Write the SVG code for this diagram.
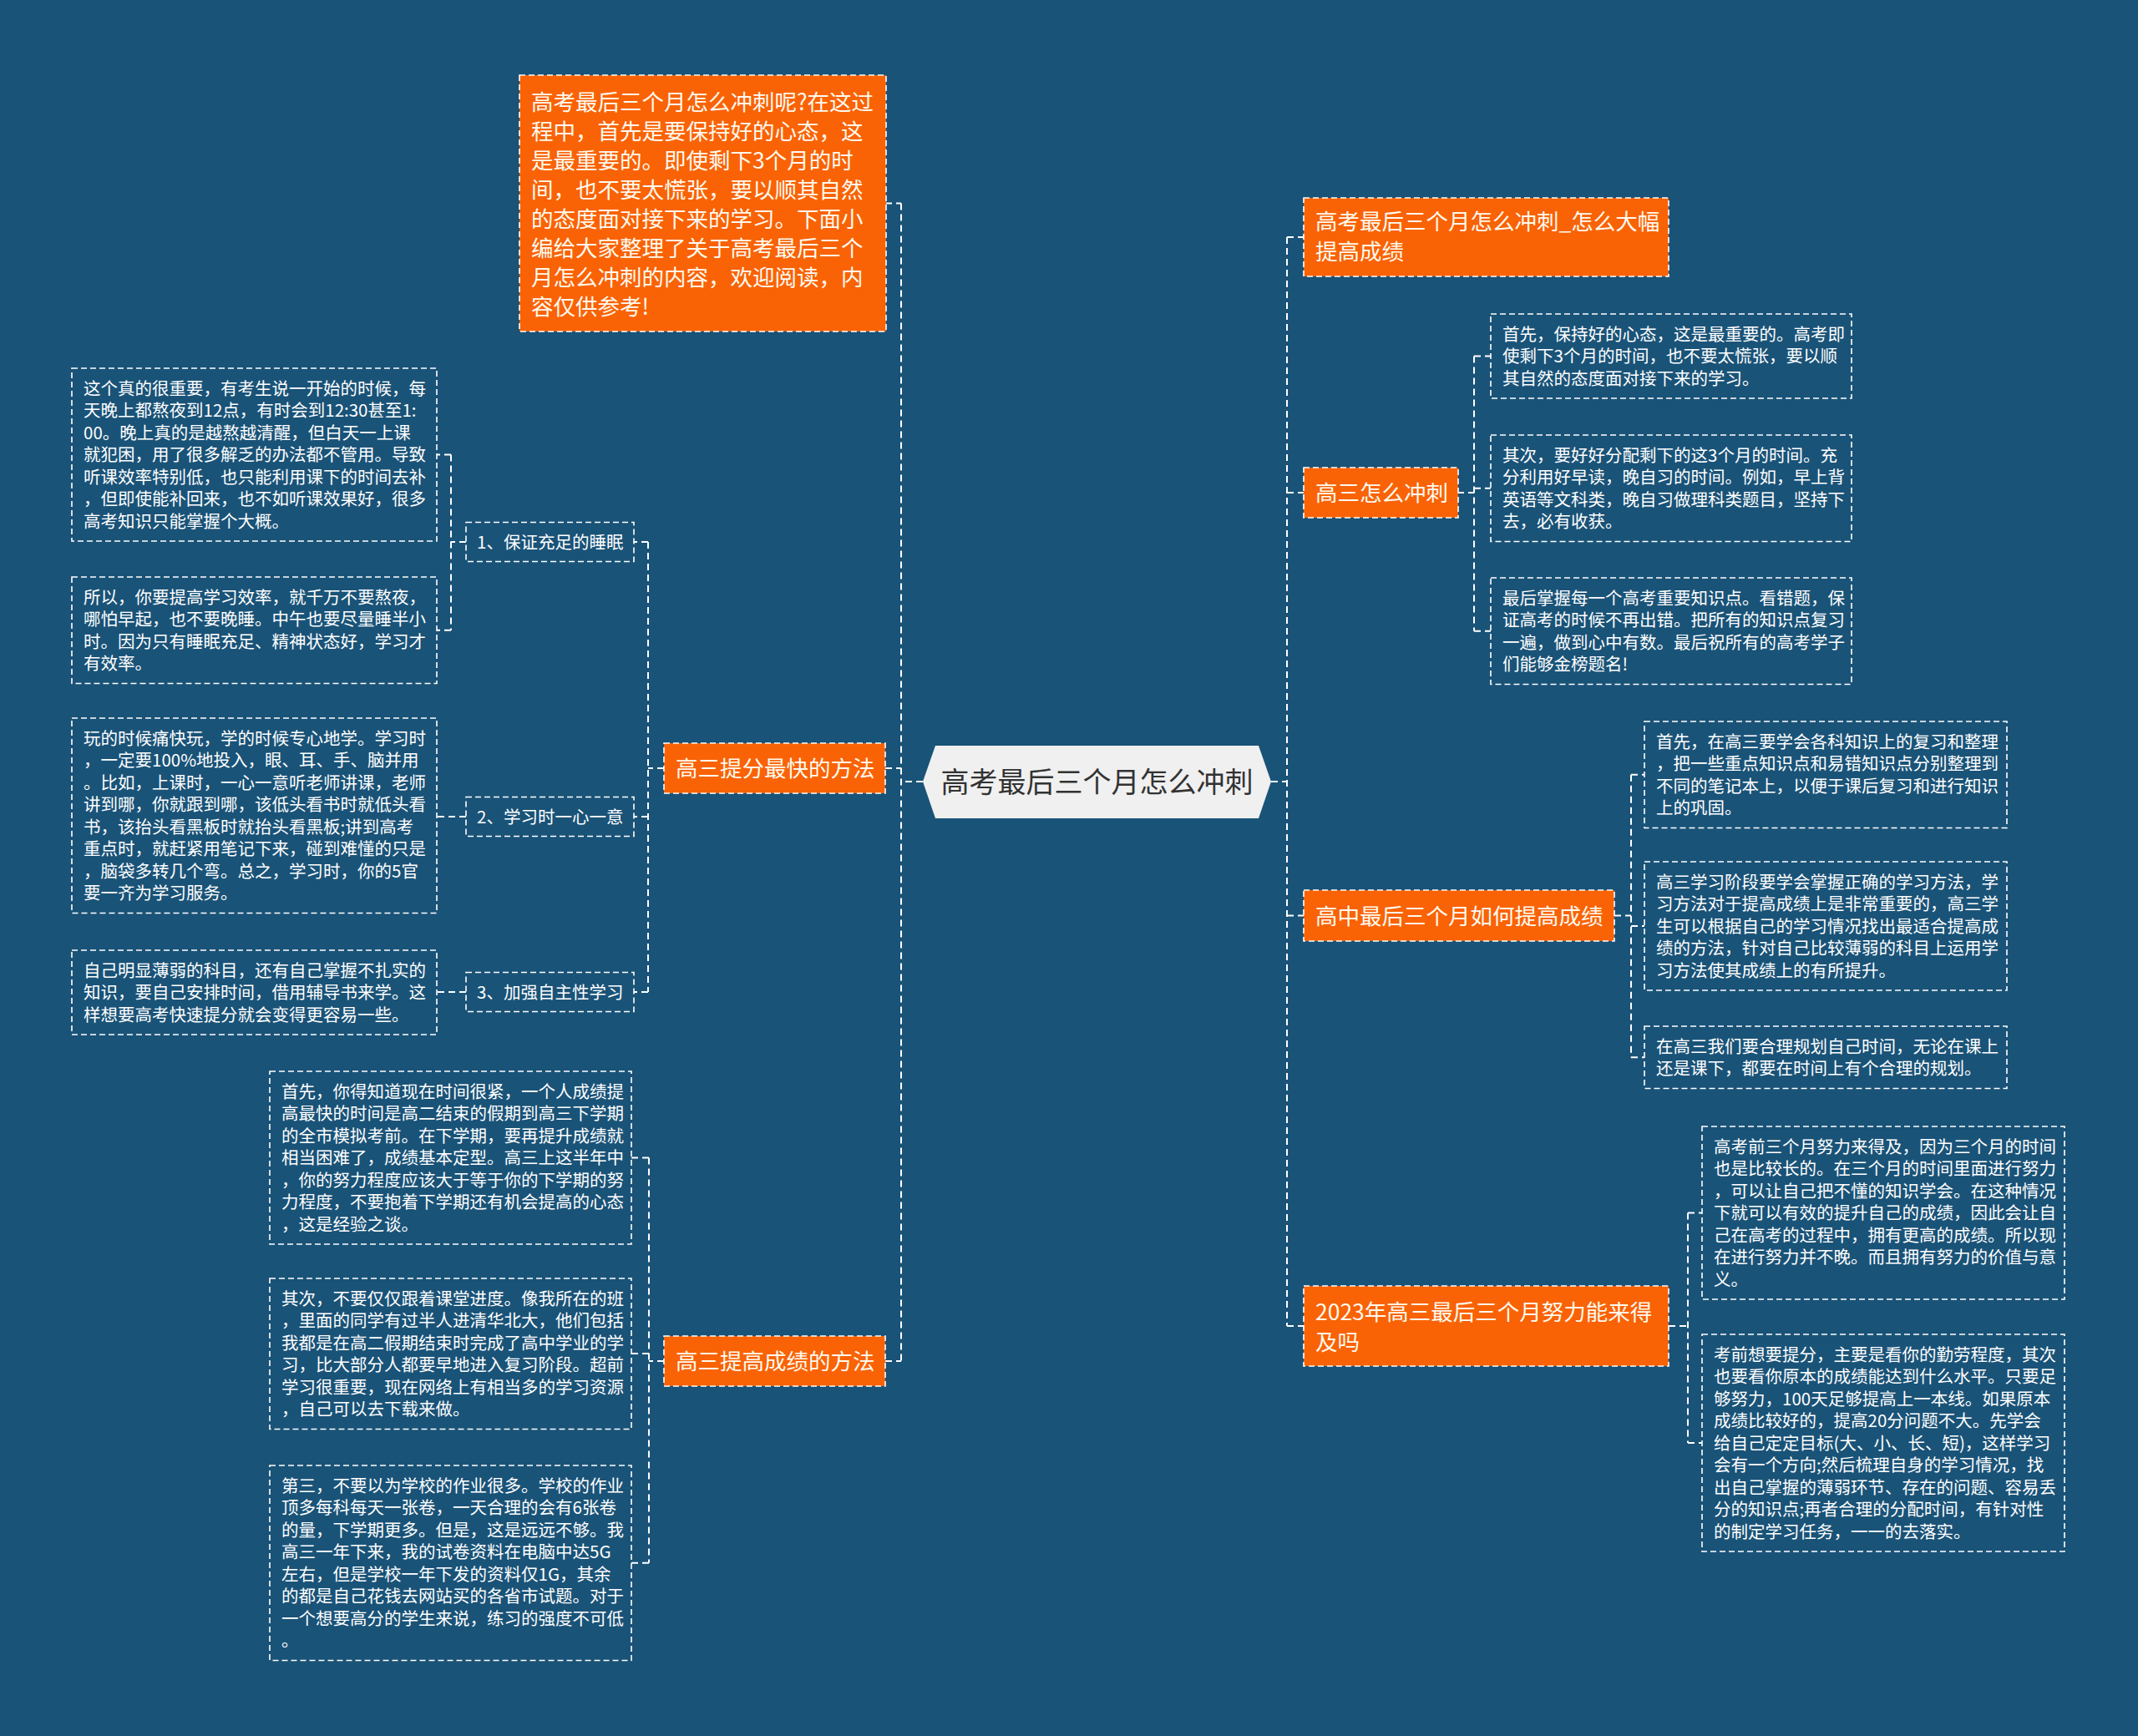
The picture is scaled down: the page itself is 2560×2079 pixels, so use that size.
<svg xmlns="http://www.w3.org/2000/svg" width="2560" height="2079" viewBox="0 0 2560 2079">
<style>
.bg{fill:#1a5378}
.leaf rect{fill:none;stroke:#fff;stroke-width:1.6;stroke-dasharray:7 4}
.org rect{fill:#f96306;stroke:#fff;stroke-width:1.6;stroke-dasharray:7 4}
text{font-family:"Noto Sans CJK SC","Noto Sans",sans-serif;fill:#fff}
.leaf text{font-size:20.5px}
.org text{font-size:26.5px;fill:#fffaf0}
.conn path{fill:none;stroke:#fff;stroke-width:2;stroke-dasharray:8 5}
</style>
<rect class="bg" x="0" y="0" width="2560" height="2079"/>

<g class="conn" id="connectors">
<path d="M1105 936H1079M1079 243.5V1630M1060 243.5H1079M1060 920H1079M1060 1630H1079"/>
<path d="M1522 936H1541M1541 284V1588M1541 284H1561M1541 590H1561M1541 1096.5H1561M1541 1588H1561"/>
<path d="M795 920H776M776 649V1188M776 649H759M776 978H759M776 1188H759"/>
<path d="M558 649H540M540 544.5V754.75M540 544.5H523M540 754.75H523"/>
<path d="M558 978H523M558 1188H523"/>
<path d="M795 1630H777M777 1386.5V1871.75M777 1386.5H756M777 1621H756M777 1871.75H756"/>
<path d="M1745 590H1765M1765 426.5V755.75M1765 426.5H1785M1765 584.75H1785M1765 755.75H1785"/>
<path d="M1933 1096.5H1953M1953 927.75V1266.25M1953 927.75H1969M1953 1109H1969M1953 1266.25H1969"/>
<path d="M1998 1588H2021M2021 1452.5V1728M2021 1452.5H2038M2021 1728H2038"/>
</g>

<g id="center">
<polygon points="1105,936 1120,893 1507,893 1522,936 1507,980 1120,980" fill="#f0f0f0"/>
<text x="1313.5" y="949" text-anchor="middle" font-size="34" style="fill:#333">高考最后三个月怎么冲刺</text>
</g>

<g class="org" id="intro">
<rect x="622" y="90" width="439" height="307"/>
<text x="636" y="132"><tspan x="636" y="132">高考最后三个月怎么冲刺呢?在这过</tspan><tspan x="636" y="167">程中，首先是要保持好的心态，这</tspan><tspan x="636" y="202">是最重要的。即使剩下3个月的时</tspan><tspan x="636" y="237">间，也不要太慌张，要以顺其自然</tspan><tspan x="636" y="272">的态度面对接下来的学习。下面小</tspan><tspan x="636" y="307">编给大家整理了关于高考最后三个</tspan><tspan x="636" y="342">月怎么冲刺的内容，欢迎阅读，内</tspan><tspan x="636" y="377">容仅供参考!</tspan></text>
</g>

<g class="org" id="b-left1">
<rect x="795" y="890" width="265" height="60"/>
<text x="809" y="930">高三提分最快的方法</text>
</g>
<g class="org" id="b-left2">
<rect x="795" y="1600" width="265" height="60"/>
<text x="809" y="1640">高三提高成绩的方法</text>
</g>

<g class="leaf" id="s1">
<rect x="558" y="625.5" width="201" height="47"/>
<text x="571" y="656.8">1、保证充足的睡眠</text>
</g>
<g class="leaf" id="s2">
<rect x="558" y="954.5" width="201" height="47"/>
<text x="571" y="985.8">2、学习时一心一意</text>
</g>
<g class="leaf" id="s3">
<rect x="558" y="1164.5" width="201" height="47"/>
<text x="571" y="1195.8">3、加强自主性学习</text>
</g>

<g class="leaf" id="l1a">
<rect x="86" y="441" width="437" height="207"/>
<text><tspan x="100" y="472.8">这个真的很重要，有考生说一开始的时候，每</tspan><tspan x="100" y="499.3">天晚上都熬夜到12点，有时会到12:30甚至1:</tspan><tspan x="100" y="525.8">00。晚上真的是越熬越清醒，但白天一上课</tspan><tspan x="100" y="552.3">就犯困，用了很多解乏的办法都不管用。导致</tspan><tspan x="100" y="578.8">听课效率特别低，也只能利用课下的时间去补</tspan><tspan x="100" y="605.3">，但即使能补回来，也不如听课效果好，很多</tspan><tspan x="100" y="631.8">高考知识只能掌握个大概。</tspan></text>
</g>
<g class="leaf" id="l1b">
<rect x="86" y="691" width="437" height="127.5"/>
<text><tspan x="100" y="722.8">所以，你要提高学习效率，就千万不要熬夜，</tspan><tspan x="100" y="749.3">哪怕早起，也不要晚睡。中午也要尽量睡半小</tspan><tspan x="100" y="775.8">时。因为只有睡眠充足、精神状态好，学习才</tspan><tspan x="100" y="802.3">有效率。</tspan></text>
</g>
<g class="leaf" id="l2">
<rect x="86" y="860" width="437" height="233.5"/>
<text><tspan x="100" y="891.8">玩的时候痛快玩，学的时候专心地学。学习时</tspan><tspan x="100" y="918.3">，一定要100%地投入，眼、耳、手、脑并用</tspan><tspan x="100" y="944.8">。比如，上课时，一心一意听老师讲课，老师</tspan><tspan x="100" y="971.3">讲到哪，你就跟到哪，该低头看书时就低头看</tspan><tspan x="100" y="997.8">书，该抬头看黑板时就抬头看黑板;讲到高考</tspan><tspan x="100" y="1024.3">重点时，就赶紧用笔记下来，碰到难懂的只是</tspan><tspan x="100" y="1050.8">，脑袋多转几个弯。总之，学习时，你的5官</tspan><tspan x="100" y="1077.3">要一齐为学习服务。</tspan></text>
</g>
<g class="leaf" id="l3">
<rect x="86" y="1138" width="437" height="101"/>
<text><tspan x="100" y="1169.8">自己明显薄弱的科目，还有自己掌握不扎实的</tspan><tspan x="100" y="1196.3">知识，要自己安排时间，借用辅导书来学。这</tspan><tspan x="100" y="1222.8">样想要高考快速提分就会变得更容易一些。</tspan></text>
</g>

<g class="leaf" id="l4a">
<rect x="323" y="1283" width="433" height="207"/>
<text><tspan x="337" y="1314.8">首先，你得知道现在时间很紧，一个人成绩提</tspan><tspan x="337" y="1341.3">高最快的时间是高二结束的假期到高三下学期</tspan><tspan x="337" y="1367.8">的全市模拟考前。在下学期，要再提升成绩就</tspan><tspan x="337" y="1394.3">相当困难了，成绩基本定型。高三上这半年中</tspan><tspan x="337" y="1420.8">，你的努力程度应该大于等于你的下学期的努</tspan><tspan x="337" y="1447.3">力程度，不要抱着下学期还有机会提高的心态</tspan><tspan x="337" y="1473.8">，这是经验之谈。</tspan></text>
</g>
<g class="leaf" id="l4b">
<rect x="323" y="1531" width="433" height="180.5"/>
<text><tspan x="337" y="1562.8">其次，不要仅仅跟着课堂进度。像我所在的班</tspan><tspan x="337" y="1589.3">，里面的同学有过半人进清华北大，他们包括</tspan><tspan x="337" y="1615.8">我都是在高二假期结束时完成了高中学业的学</tspan><tspan x="337" y="1642.3">习，比大部分人都要早地进入复习阶段。超前</tspan><tspan x="337" y="1668.8">学习很重要，现在网络上有相当多的学习资源</tspan><tspan x="337" y="1695.3">，自己可以去下载来做。</tspan></text>
</g>
<g class="leaf" id="l4c">
<rect x="323" y="1755" width="433" height="233.5"/>
<text><tspan x="337" y="1786.8">第三，不要以为学校的作业很多。学校的作业</tspan><tspan x="337" y="1813.3">顶多每科每天一张卷，一天合理的会有6张卷</tspan><tspan x="337" y="1839.8">的量，下学期更多。但是，这是远远不够。我</tspan><tspan x="337" y="1866.3">高三一年下来，我的试卷资料在电脑中达5G</tspan><tspan x="337" y="1892.8">左右，但是学校一年下发的资料仅1G，其余</tspan><tspan x="337" y="1919.3">的都是自己花钱去网站买的各省市试题。对于</tspan><tspan x="337" y="1945.8">一个想要高分的学生来说，练习的强度不可低</tspan><tspan x="337" y="1972.3">。</tspan></text>
</g>

<g class="org" id="r0">
<rect x="1561" y="237" width="437" height="94"/>
<text><tspan x="1575" y="274.5">高考最后三个月怎么冲刺_怎么大幅</tspan><tspan x="1575" y="310.5">提高成绩</tspan></text>
</g>
<g class="org" id="r1">
<rect x="1561" y="560" width="185" height="60"/>
<text x="1575" y="600">高三怎么冲刺</text>
</g>
<g class="org" id="r2">
<rect x="1561" y="1066" width="372" height="61"/>
<text x="1575" y="1106.5">高中最后三个月如何提高成绩</text>
</g>
<g class="org" id="r3">
<rect x="1561" y="1540" width="437" height="96"/>
<text><tspan x="1575" y="1581">2023年高三最后三个月努力能来得</tspan><tspan x="1575" y="1617">及吗</tspan></text>
</g>

<g class="leaf" id="r1a">
<rect x="1785" y="376" width="432" height="101"/>
<text><tspan x="1799" y="407.8">首先，保持好的心态，这是最重要的。高考即</tspan><tspan x="1799" y="434.3">使剩下3个月的时间，也不要太慌张，要以顺</tspan><tspan x="1799" y="460.8">其自然的态度面对接下来的学习。</tspan></text>
</g>
<g class="leaf" id="r1b">
<rect x="1785" y="521" width="432" height="127.5"/>
<text><tspan x="1799" y="552.8">其次，要好好分配剩下的这3个月的时间。充</tspan><tspan x="1799" y="579.3">分利用好早读，晚自习的时间。例如，早上背</tspan><tspan x="1799" y="605.8">英语等文科类，晚自习做理科类题目，坚持下</tspan><tspan x="1799" y="632.3">去，必有收获。</tspan></text>
</g>
<g class="leaf" id="r1c">
<rect x="1785" y="692" width="432" height="127.5"/>
<text><tspan x="1799" y="723.8">最后掌握每一个高考重要知识点。看错题，保</tspan><tspan x="1799" y="750.3">证高考的时候不再出错。把所有的知识点复习</tspan><tspan x="1799" y="776.8">一遍，做到心中有数。最后祝所有的高考学子</tspan><tspan x="1799" y="803.3">们能够金榜题名!</tspan></text>
</g>

<g class="leaf" id="r2a">
<rect x="1969" y="864" width="434" height="127.5"/>
<text><tspan x="1983" y="895.8">首先，在高三要学会各科知识上的复习和整理</tspan><tspan x="1983" y="922.3">，把一些重点知识点和易错知识点分别整理到</tspan><tspan x="1983" y="948.8">不同的笔记本上，以便于课后复习和进行知识</tspan><tspan x="1983" y="975.3">上的巩固。</tspan></text>
</g>
<g class="leaf" id="r2b">
<rect x="1969" y="1032" width="434" height="154"/>
<text><tspan x="1983" y="1063.8">高三学习阶段要学会掌握正确的学习方法，学</tspan><tspan x="1983" y="1090.3">习方法对于提高成绩上是非常重要的，高三学</tspan><tspan x="1983" y="1116.8">生可以根据自己的学习情况找出最适合提高成</tspan><tspan x="1983" y="1143.3">绩的方法，针对自己比较薄弱的科目上运用学</tspan><tspan x="1983" y="1169.8">习方法使其成绩上的有所提升。</tspan></text>
</g>
<g class="leaf" id="r2c">
<rect x="1969" y="1229" width="434" height="74.5"/>
<text><tspan x="1983" y="1260.8">在高三我们要合理规划自己时间，无论在课上</tspan><tspan x="1983" y="1287.3">还是课下，都要在时间上有个合理的规划。</tspan></text>
</g>

<g class="leaf" id="r3a">
<rect x="2038" y="1349" width="434" height="207"/>
<text><tspan x="2052" y="1380.8">高考前三个月努力来得及，因为三个月的时间</tspan><tspan x="2052" y="1407.3">也是比较长的。在三个月的时间里面进行努力</tspan><tspan x="2052" y="1433.8">，可以让自己把不懂的知识学会。在这种情况</tspan><tspan x="2052" y="1460.3">下就可以有效的提升自己的成绩，因此会让自</tspan><tspan x="2052" y="1486.8">己在高考的过程中，拥有更高的成绩。所以现</tspan><tspan x="2052" y="1513.3">在进行努力并不晚。而且拥有努力的价值与意</tspan><tspan x="2052" y="1539.8">义。</tspan></text>
</g>
<g class="leaf" id="r3b">
<rect x="2038" y="1598" width="434" height="260"/>
<text><tspan x="2052" y="1629.8">考前想要提分，主要是看你的勤劳程度，其次</tspan><tspan x="2052" y="1656.3">也要看你原本的成绩能达到什么水平。只要足</tspan><tspan x="2052" y="1682.8">够努力，100天足够提高上一本线。如果原本</tspan><tspan x="2052" y="1709.3">成绩比较好的，提高20分问题不大。先学会</tspan><tspan x="2052" y="1735.8">给自己定定目标(大、小、长、短)，这样学习</tspan><tspan x="2052" y="1762.3">会有一个方向;然后梳理自身的学习情况，找</tspan><tspan x="2052" y="1788.8">出自己掌握的薄弱环节、存在的问题、容易丢</tspan><tspan x="2052" y="1815.3">分的知识点;再者合理的分配时间，有针对性</tspan><tspan x="2052" y="1841.8">的制定学习任务，一一的去落实。</tspan></text>
</g>
</svg>
